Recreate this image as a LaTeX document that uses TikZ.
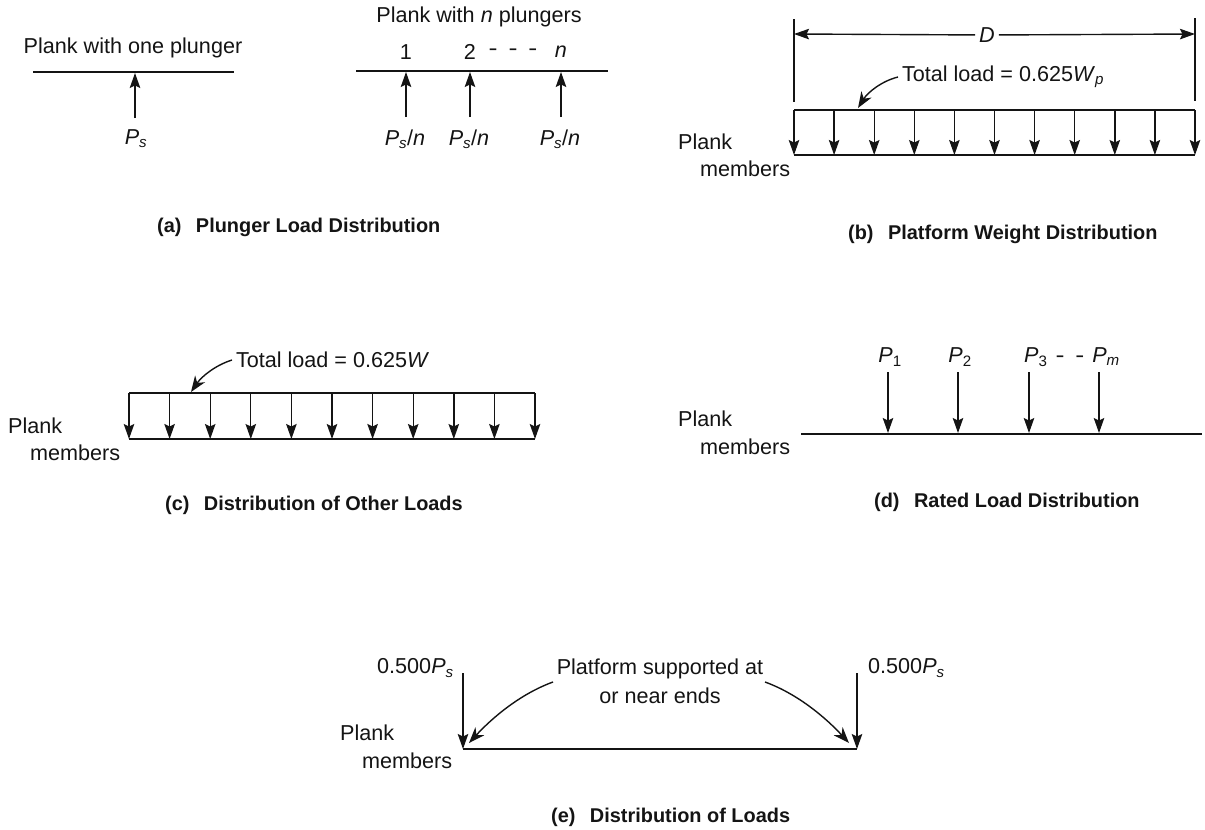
\documentclass[tikz,border=0pt]{standalone}
\usepackage{fontspec}
\setmainfont{Liberation Sans}
\usetikzlibrary{arrows.meta,calc}
\definecolor{ink}{HTML}{141414}
\newcommand{\Ps}{\textit{P}\textsubscript{\textit{s}}}
\newcommand{\dashgap}{\scalebox{1.25}[1]{-}\hspace{.5em}\scalebox{1.25}[1]{-}}
\tikzset{
  lbl/.style={text=ink, inner sep=0pt, align=center, font=\fontsize{21.6}{29}\selectfont},
  caption/.style={text=ink, inner sep=0pt, anchor=west, font=\fontsize{19.9}{24}\selectfont\bfseries},
  arrow/.style={-{Stealth[length=15pt,width=10.5pt,inset=2.5pt]}, line width=1.4pt, draw=ink},
  leader/.style={-{Stealth[length=16pt,width=12pt,inset=5pt]}, line width=1.4pt, draw=ink},
  dim/.style={line width=1.3pt, draw=ink},
  plank/.style={line width=2.5pt, draw=ink},
  topline/.style={line width=1.4pt, draw=ink}
}
\begin{document}
\begin{tikzpicture}[x=1pt,y=-1pt]
  \useasboundingbox (0,0) rectangle (1205,830);

  % (a)
  \node[lbl] (one) at (133,48) {Plank with one plunger};
  \coordinate (oneL) at (33,72);
  \coordinate (oneR) at (234,72);
  \draw[plank] (oneL) -- (oneR);
  \node[lbl] (oneP) at (136,139) {\Ps};
  \coordinate (oneT) at (135,73);
  \draw[arrow] (135,118) -- (oneT);
  \node[lbl] (many) at (479,17) {Plank with \textit{n} plungers};
  \coordinate (manyL) at (356,71);
  \coordinate (manyR) at (608,71);
  \draw[plank] (manyL) -- (manyR);
  \foreach \n/\xx/\tag in {a/406/1,b/470/2,c/561/\textit{n}}{
    \node[lbl] (tag\n) at (\xx,52) {\tag};
    \node[lbl] (load\n) at (\xx-1,139) {\Ps/\textit{n}};
    \coordinate (top\n) at (\xx,72);
    \draw[arrow] (\xx,117) -- (top\n);
  }
  \node[lbl] (dots) at (513,52) {\dashgap\hspace{.5em}\scalebox{1.25}[1]{-}};
  \node[caption] (capa) at (157,227) {(a)\hspace{0.45em} Plunger Load Distribution};

  % (b)
  \coordinate (bTL) at (794,110);
  \coordinate (bTR) at (1195,110);
  \coordinate (bBL) at (794,155);
  \coordinate (bBR) at (1195,155);
  \draw[topline] (bTL) -- (bTR);
  \draw[plank] (bBL) -- (bBR);
  \foreach \i in {0,...,10}{
    \coordinate (bdn\i) at ($(bBL)!\i/10!(bBR)$);
    \draw[arrow] ($(bTL)!\i/10!(bTR)$) -- (bdn\i);
  }
  \node[lbl,outer sep=4pt] (D) at (987,35) {\textit{D}};
  \coordinate (dimL) at (794,34);
  \coordinate (dimR) at (1195,34);
  \draw[arrow] (D) -- (dimL);
  \draw[arrow] (D) -- (dimR);
  \draw[dim] (794,19) -- (794,102);
  \draw[dim] (1195,18) -- (1195,101);
  \node[lbl,anchor=west,outer sep=4pt] (totb) at (898,77) {Total load = 0.625\textit{W}\textsubscript{\textit{p}}};
  \coordinate (totbT) at (858,108);
  \draw[leader] (totb.west) .. controls (882,81) and (868,92) .. (totbT);
  \node[lbl,anchor=west] (plankb) at (678,142) {Plank};
  \node[lbl,anchor=west] (memb) at (700,169) {members};
  \node[caption] (capb) at (848,234) {(b)\hspace{0.45em} Platform Weight Distribution};

  % (c)
  \coordinate (cTL) at (129,393);
  \coordinate (cTR) at (535,393);
  \coordinate (cBL) at (129,439);
  \coordinate (cBR) at (535,439);
  \draw[topline] (cTL) -- (cTR);
  \draw[plank] (cBL) -- (cBR);
  \foreach \i in {0,...,10}{
    \coordinate (cdn\i) at ($(cBL)!\i/10!(cBR)$);
    \draw[arrow] ($(cTL)!\i/10!(cTR)$) -- (cdn\i);
  }
  \node[lbl,anchor=west,outer sep=4pt] (totc) at (232,360) {Total load = 0.625\textit{W}};
  \coordinate (totcT) at (191,392);
  \draw[leader] (totc.west) .. controls (216,365) and (202,376) .. (totcT);
  \node[lbl,anchor=west] (plankc) at (8,426) {Plank};
  \node[lbl,anchor=west] (memc) at (30,453) {members};
  \node[caption] (capc) at (165,505) {(c)\hspace{0.45em} Distribution of Other Loads};

  % (d)
  \coordinate (dL) at (801,434);
  \coordinate (dR) at (1202,434);
  \draw[plank] (dL) -- (dR);
  \foreach \n/\xx in {1/888,2/958,3/1029,4/1099}{
    \coordinate (dn\n) at (\xx,433);
    \draw[arrow] (\xx,372) -- (dn\n);
  }
  \node[lbl] (P1) at (890,357) {\textit{P}\textsubscript{1}};
  \node[lbl] (P2) at (960,357) {\textit{P}\textsubscript{2}};
  \node[lbl,anchor=west] (P3) at (1024,357) {\textit{P}\textsubscript{3}\hspace{.37em}\dashgap\hspace{.37em}\textit{P}\textsubscript{\textit{m}}};
  \node[lbl,anchor=west] (plankd) at (678,419) {Plank};
  \node[lbl,anchor=west] (memd) at (700,447) {members};
  \node[caption] (capd) at (874,502) {(d)\hspace{0.45em} Rated Load Distribution};

  % (e)
  \coordinate (eL) at (463,749);
  \coordinate (eR) at (857,749);
  \draw[plank] (eL) -- (eR);
  \draw[arrow] (463,673) -- (eL);
  \draw[arrow] (857,673) -- (eR);
  \node[lbl,anchor=west] (ePl) at (377,668) {0.500\Ps};
  \node[lbl,anchor=west] (ePr) at (868,668) {0.500\Ps};
  \node[lbl] (platform) at (660,681) {Platform supported at\\or near ends};
  \coordinate (supL) at (553,682);
  \coordinate (supR) at (765,682);
  \coordinate (eaL) at (469,743);
  \coordinate (eaR) at (849,743);
  \draw[leader] (supL) .. controls (520,694) and (492,718) .. (eaL);
  \draw[leader] (supR) .. controls (798,694) and (826,718) .. (eaR);
  \node[lbl,anchor=west] (planke) at (340,733) {Plank};
  \node[lbl,anchor=west] (meme) at (362,761) {members};
  \node[caption] (cape) at (551,817) {(e)\hspace{0.45em} Distribution of Loads};
\end{tikzpicture}
\end{document}
